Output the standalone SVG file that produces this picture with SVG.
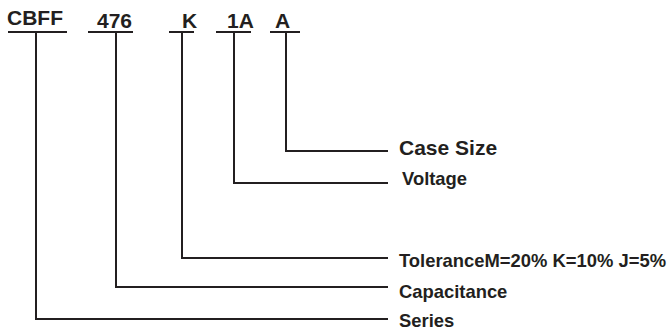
<svg xmlns="http://www.w3.org/2000/svg" width="671" height="333" viewBox="0 0 671 333">
<style>
  .t { font-family: "Liberation Sans", Arial, sans-serif; font-weight: bold; fill: #231f20; }
  .top { font-size: 21px; }
  .lbl { font-size: 18.4px; }
  .big { font-size: 21px; }
  .ln { stroke: #231f20; stroke-width: 2; fill: none; }
</style>
<rect width="671" height="333" fill="#ffffff"/>
<g id="code-CBFF">
  <text class="t top" x="7" y="25" font-size="21.5">CBFF</text>
  <line class="ln" x1="8" y1="32" x2="67" y2="32"/>
</g>
<g id="code-476">
  <text class="t top" x="97" y="28">476</text>
  <line class="ln" x1="88" y1="32" x2="133" y2="32"/>
</g>
<g id="code-K">
  <text class="t top" x="182" y="28">K</text>
  <line class="ln" x1="169" y1="32" x2="194" y2="32"/>
</g>
<g id="code-1A">
  <text class="t top" x="227" y="28">1A</text>
  <line class="ln" x1="216" y1="32" x2="251" y2="32"/>
</g>
<g id="code-A">
  <text class="t top" x="275" y="28">A</text>
  <line class="ln" x1="270" y1="32" x2="300" y2="32"/>
</g>
<g id="label-case-size"><text class="t big" x="399" y="155">Case Size</text></g>
<g id="label-voltage"><text class="t lbl" x="402" y="185">Voltage</text></g>
<g id="label-tolerance"><text class="t lbl" x="399" y="267">ToleranceM=20% K=10% J=5%</text></g>
<g id="label-capacitance"><text class="t lbl" x="399" y="298">Capacitance</text></g>
<g id="label-series"><text class="t lbl" x="399" y="327">Series</text></g>
<g id="connectors">
  <polyline class="ln" points="286,32 286,151 388,151"/>
  <polyline class="ln" points="234,32 234,183 388,183"/>
  <polyline class="ln" points="182,32 182,258 388,258"/>
  <polyline class="ln" points="116,32 116,287 388,287"/>
  <polyline class="ln" points="36,32 36,319 388,319"/>
</g>
</svg>
